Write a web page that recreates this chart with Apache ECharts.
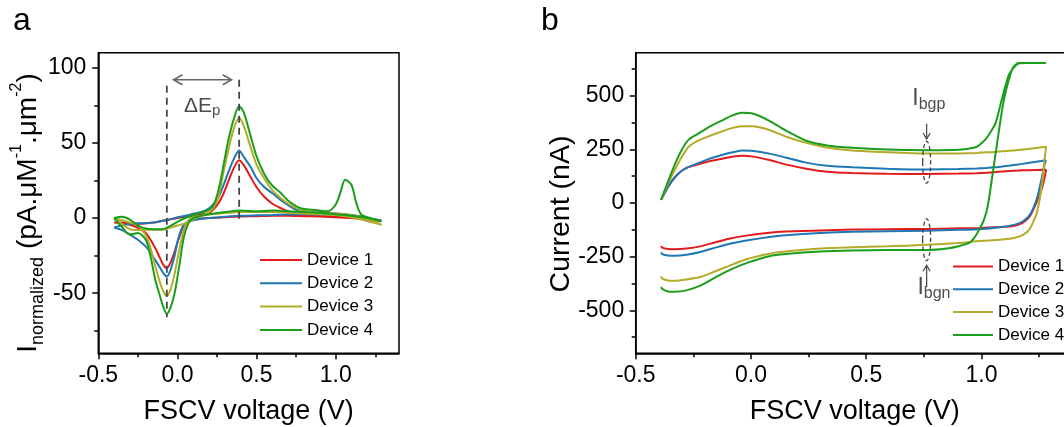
<!DOCTYPE html>
<html>
<head>
<meta charset="utf-8">
<script src="https://cdn.jsdelivr.net/npm/echarts@6.0.0/dist/echarts.min.js"></script>
<style>
  html, body { margin: 0; padding: 0; background: #fff; }
  #chart { width: 1064px; height: 427px; }
</style>
</head>
<body>
<div id="chart"></div>
<script>
const devices = ['Device 1', 'Device 2', 'Device 3', 'Device 4']
const colors = ['#e31a1c', '#1f77b4', '#b3ab2a', '#1b9e1b']

// panel a: background-subtracted current, forward sweep (-0.4 -> 1.3 V)
const vFwdA = [-0.4, -0.35, -0.3, -0.25, -0.2, -0.15, -0.1, -0.05, 0, 0.05, 0.1, 0.15, 0.2, 0.23, 0.26, 0.29, 0.32, 0.355, 0.39, 0.42, 0.46, 0.5, 0.55, 0.6, 0.65, 0.7, 0.775, 0.85, 0.95, 1.0, 1.03, 1.06, 1.1, 1.13, 1.16, 1.2, 1.25, 1.29]
const fwdA1 = [-3, -3, -3.5, -4, -3.5, -3, -2, -1, 0, 0.8, 1.5, 2.5, 3.3, 6, 10, 16, 24, 33, 38.4, 35, 27.8, 20.5, 14, 9.5, 6.7, 4.5, 2.2, 2, 1.8, 1.5, 1.3, 1.2, 1, 0.8, 0.5, 0, -1, -2]
const fwdA2 = [-6.3, -5, -4, -3.5, -3.5, -3, -2, -1, 0.5, 1.5, 2.8, 4, 6.5, 9.5, 14, 21.5, 30, 39, 45, 40.5, 34.4, 26.5, 20.5, 16.5, 12.2, 8.5, 4.4, 3.8, 3.3, 3, 2.8, 2.5, 2, 1.5, 1, 0, -1, -2]
const fwdA3 = [0, -4, -7.5, -8, -7.8, -7.8, -7.8, -6.5, -5, -3.5, -0.8, 1.5, 4, 7, 14.4, 30, 44.5, 59, 66.7, 61, 48, 35.5, 26, 18.5, 13.5, 9.5, 5.5, 4, 3.3, 3, 2.8, 2.5, 2, 1.5, 0.5, -0.5, -2.5, -4.5]
const fwdA4 = [0, 0.8, -1, -5, -7, -7.5, -7.5, -5.5, -2.5, 0, 2, 3.5, 5.5, 9, 18.9, 34.4, 51, 65.5, 74.4, 70, 55.5, 41, 29, 21.5, 17, 11.5, 6.7, 5.5, 4.5, 9, 17, 25.5, 22, 10, 2.5, 0.5, -1, -2]

// panel a: reverse sweep (1.3 -> -0.4 V)
const vRevA = [1.29, 1.2, 1.1, 1.0, 0.9, 0.8, 0.7, 0.6, 0.5, 0.4, 0.3, 0.2, 0.15, 0.1, 0.07, 0.04, 0.01, -0.02, -0.045, -0.067, -0.09, -0.11, -0.14, -0.17, -0.2, -0.25, -0.3, -0.35, -0.4]
const revA1 = [-2, -1, 0, 0.5, 1, 1.2, 1.5, 1.5, 1.2, 1, 0.5, 0, -0.3, -0.8, -2, -5.5, -13, -23, -30, -33.3, -31, -26.7, -20, -14.5, -10, -6.5, -4.5, -3.5, -3]
const revA2 = [-2, 0, 1.5, 2, 2.3, 2.5, 2.3, 2, 1.8, 1.5, 0.8, 0, -0.5, -1.5, -2.5, -4.5, -12, -26, -35, -38.9, -36.5, -33, -28, -23, -19, -14.5, -11, -8, -6.3]
const revA3 = [-4.5, -2, 0.5, 2, 2.5, 3, 3.5, 4, 4, 4, 3.3, 2.3, 1.5, 0.5, -1.5, -8, -22, -38, -48, -51.8, -48.5, -43, -32, -20, -11.5, -5, -3, -1.5, 0]
const revA4 = [-2, 0, 1.5, 2.5, 3.5, 4, 4.5, 5, 4.5, 5, 4, 2.5, 1.5, 0, -3.3, -13, -33, -51, -60, -63.8, -59, -52, -41, -25.6, -14.5, -10, -11, -6, 0]

// panel b: raw current (nA), forward sweep
const vFwdB = [-0.39, -0.36, -0.33, -0.3, -0.27, -0.23, -0.19, -0.13, -0.08, -0.04, 0.01, 0.08, 0.15, 0.24, 0.33, 0.44, 0.59, 0.76, 0.9, 0.98, 1.02, 1.06, 1.09, 1.12, 1.16, 1.2, 1.28]
const fwdB1 = [15, 75, 120, 150, 168, 180, 192, 205, 215, 220, 216, 200, 180, 160, 146, 140, 136, 135, 137, 139, 141, 144, 147, 149, 151, 153, 155]
const fwdB2 = [15, 75, 120, 150, 168, 185, 202, 222, 236, 244, 242, 230, 212, 188, 173, 166, 160, 156, 158, 161, 163, 166, 170, 174, 179, 186, 199]
const fwdB3 = [15, 90, 155, 215, 262, 290, 308, 332, 350, 358, 357, 340, 310, 280, 258, 244, 236, 230, 231, 233, 236, 238, 241, 243, 247, 251, 262]
const fwdB4 = [15, 100, 180, 248, 295, 322, 349, 382, 408, 420, 416, 383, 338, 290, 268, 257, 249, 246, 248, 262, 300, 370, 490, 600, 650, 652, 652]

// panel b: reverse sweep
const vRevB = [1.28, 1.275, 1.26, 1.24, 1.21, 1.18, 1.14, 1.08, 0.99, 0.9, 0.76, 0.59, 0.44, 0.3, 0.15, 0.08, -0.02, -0.1, -0.16, -0.22, -0.28, -0.33, -0.36, -0.385, -0.39]
const revB1 = [155, 124, 60, 5, -62, -92, -107, -112, -116, -118, -121, -122, -124, -128, -133, -138, -152, -168, -185, -202, -212, -215, -214, -208, -200]
const revB2 = [199, 185, 110, 20, -55, -85, -102, -113, -122, -125, -129, -131, -134, -140, -150, -158, -175, -192, -210, -228, -241, -246, -245, -238, -230]
const revB3 = [262, 215, 70, -45, -120, -148, -163, -171, -177, -186, -195, -202, -206, -212, -226, -236, -262, -295, -320, -345, -356, -362, -361, -352, -342]
const vRevB4 = [1.28, 1.2, 1.16, 1.136, 1.11, 1.092, 1.07, 1.049, 1.027, 1.01, 0.99, 0.97, 0.948, 0.905, 0.85, 0.76, 0.59, 0.44, 0.3, 0.15, 0.08, -0.02, -0.1, -0.16, -0.22, -0.28, -0.33, -0.36, -0.385, -0.39]
const revB4 = [652, 652, 652, 630, 540, 450, 295, 140, -16, -80, -124, -160, -185, -200, -212, -219, -219, -221, -226, -238, -248, -280, -316, -350, -385, -407, -413, -412, -400, -391]

// axis ticks
const xTicks = [-0.5, 0, 0.5, 1.0]
const xMinor = [-0.25, 0.25, 0.75, 1.25]
const yTicksA = [-50, 0, 50, 100]
const yMinorA = [-75, -25, 25, 75]
const yTicksB = [-500, -250, 0, 250, 500]
const yMinorB = [-625, -375, -125, 125, 375, 625]

const font = '"Liberation Sans", Arial, sans-serif'
const black = '#000'
const annot = '#4d4d4d'

const pairs = (vf, f, vr, r) =>
  vf.map((v, i) => [v, f[i]]).concat(vr.map((v, i) => [v, r[i]]))

const panelA = [
  pairs(vFwdA, fwdA1, vRevA, revA1),
  pairs(vFwdA, fwdA2, vRevA, revA2),
  pairs(vFwdA, fwdA3, vRevA, revA3),
  pairs(vFwdA, fwdA4, vRevA, revA4)
]
const panelB = [
  pairs(vFwdB, fwdB1, vRevB, revB1),
  pairs(vFwdB, fwdB2, vRevB, revB2),
  pairs(vFwdB, fwdB3, vRevB, revB3),
  pairs(vFwdB, fwdB4, vRevB4, revB4)
]

// one labelled axis with major ticks + one bare axis carrying the minor ticks
const makeX = (gridIndex) => [
  {
    type: 'value', gridIndex, position: 'bottom', min: -0.5, max: 1.4,
    axisLine: { show: true, onZero: false, lineStyle: { color: black, width: 1.5 } },
    axisTick: { show: true, customValues: xTicks, length: 6, lineStyle: { color: black, width: 1.5 } },
    axisLabel: { customValues: xTicks, formatter: v => v.toFixed(1), fontSize: 23, color: black, margin: 11, fontFamily: font },
    splitLine: { show: false },
    name: 'FSCV voltage (V)', nameLocation: 'middle', nameGap: 45,
    nameTextStyle: { fontSize: 27, color: black, fontFamily: font }
  },
  {
    type: 'value', gridIndex, position: 'bottom', min: -0.5, max: 1.4,
    axisLine: { show: false, onZero: false },
    axisTick: { show: true, customValues: xMinor, length: 4, lineStyle: { color: black, width: 1.5 } },
    axisLabel: { show: false },
    splitLine: { show: false }
  }
]

const makeY = (gridIndex, min, max, ticks, minor, margin) => [
  {
    type: 'value', gridIndex, position: 'left', min, max,
    axisLine: { show: true, onZero: false, lineStyle: { color: black, width: 1.5 } },
    axisTick: { show: true, customValues: ticks, length: 6, lineStyle: { color: black, width: 1.5 } },
    axisLabel: { customValues: ticks, fontSize: 23, color: black, margin, fontFamily: font },
    splitLine: { show: false }
  },
  {
    type: 'value', gridIndex, position: 'left', min, max,
    axisLine: { show: false, onZero: false },
    axisTick: { show: true, customValues: minor, length: 4, lineStyle: { color: black, width: 1.5 } },
    axisLabel: { show: false },
    splitLine: { show: false }
  }
]

const series = []
devices.forEach((name, i) => {
  series.push({
    name, type: 'line', xAxisIndex: 0, yAxisIndex: 0, data: panelA[i],
    symbol: 'none', smooth: 0.3, z: 2 + i,
    lineStyle: { color: colors[i], width: 2 }, itemStyle: { color: colors[i] }
  })
})
devices.forEach((name, i) => {
  series.push({
    name, type: 'line', xAxisIndex: 2, yAxisIndex: 2, data: panelB[i],
    symbol: 'none', smooth: 0.2, z: 2 + i,
    lineStyle: { color: colors[i], width: 2 }, itemStyle: { color: colors[i] }
  })
})

// legend icon is a plain 2px bar so no marker dot is drawn
const legendBase = {
  data: devices, orient: 'vertical', icon: 'rect', itemHeight: 2, selectedMode: false, padding: 0,
  textStyle: { fontSize: 17, color: black, fontFamily: font }
}

const option = {
  animation: false,
  backgroundColor: '#fff',
  grid: [
    { left: 98.3, top: 52.7, width: 300.7, height: 300.6, show: true, borderColor: black, borderWidth: 1.5, containLabel: false, outerBoundsMode: 'none' },
    { left: 635.7, top: 52.7, width: 438, height: 300.6, show: true, borderColor: black, borderWidth: 1.5, containLabel: false, outerBoundsMode: 'none' }
  ],
  xAxis: [...makeX(0), ...makeX(1)],
  yAxis: [...makeY(0, -90, 110, yTicksA, yMinorA, 12), ...makeY(1, -700, 700, yTicksB, yMinorB, 11.5)],
  legend: [
    { ...legendBase, left: 260, top: 251.5, itemWidth: 42, itemGap: 6.3 },
    { ...legendBase, left: 953, top: 258, itemWidth: 40, itemGap: 5.8 }
  ],
  series
}

const chart = echarts.init(document.getElementById('chart'), null, { renderer: 'canvas' })
chart.setOption(option)

// annotations, placed from data coordinates
const pa = p => chart.convertToPixel({ gridIndex: 0 }, p)
const pb = p => chart.convertToPixel({ gridIndex: 1 }, p)

const dashed = (p1, p2) => ({
  type: 'line', silent: true, z: 50,
  shape: { x1: p1[0], y1: p1[1], x2: p2[0], y2: p2[1] },
  style: { stroke: '#444', lineWidth: 1.8, lineDash: [7, 5] }
})

const chevron = (tip, dir, len, half, color, width) => ({
  type: 'polyline', silent: true, z: 50,
  shape: { points: dir === 'h'
    ? [[tip[0] + len, tip[1] - half], tip, [tip[0] + len, tip[1] + half]]
    : [[tip[0] - half, tip[1] + len], tip, [tip[0] + half, tip[1] + len]] },
  style: { stroke: color, lineWidth: width, fill: null }
})

const arrL = pa([-0.025, 92])
const arrR = pa([0.343, 92])
const dE = pa([0.156, 66])

const bgpText = pb([0.70, 420])
const upTop = pb([0.762, 369]), upBot = pb([0.762, 298])
const ellUp = pb([0.762, 190]), ellDn = pb([0.762, -171])
const dnBot = pb([0.762, -392]), dnTop = pb([0.762, -290])
const bgnText = pb([0.722, -460])

const graphic = [
  // panel letters
  { type: 'text', left: 13, top: 5, style: { text: 'a', fontSize: 32, fontFamily: font, fill: black } },
  { type: 'text', left: 541, top: 5, style: { text: 'b', fontSize: 32, fontFamily: font, fill: black } },
  // y axis names
  {
    type: 'text', x: 28, y: 213, rotation: Math.PI / 2,
    style: {
      text: '{m|I}{s|normalized}{m| (pA.μM}{p|-1}{m|.μm}{p|-2}{m|)}',
      align: 'center', verticalAlign: 'middle', fill: black,
      rich: {
        m: { fontSize: 28, lineHeight: 38, fontFamily: font, fill: black },
        s: { fontSize: 18, lineHeight: 18, verticalAlign: 'bottom', fontFamily: font, fill: black },
        p: { fontSize: 16, lineHeight: 23, verticalAlign: 'top', fontFamily: font, fill: black }
      }
    }
  },
  {
    type: 'text', x: 561, y: 214, rotation: Math.PI / 2,
    style: { text: 'Current (nA)', fontSize: 28.5, fontFamily: font, fill: black, align: 'center', verticalAlign: 'middle' }
  },
  // panel a: peak separation
  dashed(pa([-0.067, 88]), pa([-0.067, -66])),
  dashed(pa([0.39, 92]), pa([0.39, -2])),
  {
    type: 'line', silent: true, z: 50,
    shape: { x1: arrL[0], y1: arrL[1], x2: arrR[0], y2: arrR[1] },
    style: { stroke: '#666', lineWidth: 1.5 }
  },
  chevron(arrL, 'h', 9, 5, '#666', 1.5),
  chevron(arrR, 'h', -9, 5, '#666', 1.5),
  {
    type: 'text', x: dE[0], y: dE[1], z: 50,
    style: {
      text: '{m|ΔE}{s|p}', align: 'center', verticalAlign: 'bottom',
      rich: {
        m: { fontSize: 21, lineHeight: 26, fontFamily: font, fill: annot },
        s: { fontSize: 15, lineHeight: 15, verticalAlign: 'bottom', fontFamily: font, fill: annot }
      }
    }
  },
  // panel b: background current markers
  {
    type: 'text', x: bgpText[0], y: bgpText[1], z: 50,
    style: {
      text: '{m|I}{s|bgp}', align: 'left', verticalAlign: 'bottom',
      rich: {
        m: { fontSize: 23, lineHeight: 28, fontFamily: font, fill: annot },
        s: { fontSize: 16, lineHeight: 16, verticalAlign: 'bottom', fontFamily: font, fill: annot }
      }
    }
  },
  {
    type: 'line', silent: true, z: 50,
    shape: { x1: upTop[0], y1: upTop[1], x2: upBot[0], y2: upBot[1] },
    style: { stroke: annot, lineWidth: 1.3 }
  },
  chevron(upBot, 'v', -6, 3.5, annot, 1.3),
  {
    type: 'ellipse', silent: true, z: 50,
    shape: { cx: ellUp[0], cy: ellUp[1], rx: 4, ry: 21 },
    style: { stroke: '#444', lineWidth: 1.3, lineDash: [4, 3], fill: null }
  },
  {
    type: 'ellipse', silent: true, z: 50,
    shape: { cx: ellDn[0], cy: ellDn[1], rx: 4, ry: 21 },
    style: { stroke: '#444', lineWidth: 1.3, lineDash: [4, 3], fill: null }
  },
  {
    type: 'line', silent: true, z: 50,
    shape: { x1: dnBot[0], y1: dnBot[1], x2: dnTop[0], y2: dnTop[1] },
    style: { stroke: annot, lineWidth: 1.3 }
  },
  chevron(dnTop, 'v', 6, 3.5, annot, 1.3),
  {
    type: 'text', x: bgnText[0], y: bgnText[1], z: 50,
    style: {
      text: '{m|I}{s|bgn}', align: 'left', verticalAlign: 'bottom',
      rich: {
        m: { fontSize: 23, lineHeight: 28, fontFamily: font, fill: annot },
        s: { fontSize: 16, lineHeight: 16, verticalAlign: 'bottom', fontFamily: font, fill: annot }
      }
    }
  }
]

chart.setOption({ graphic })
</script>
</body>
</html>
